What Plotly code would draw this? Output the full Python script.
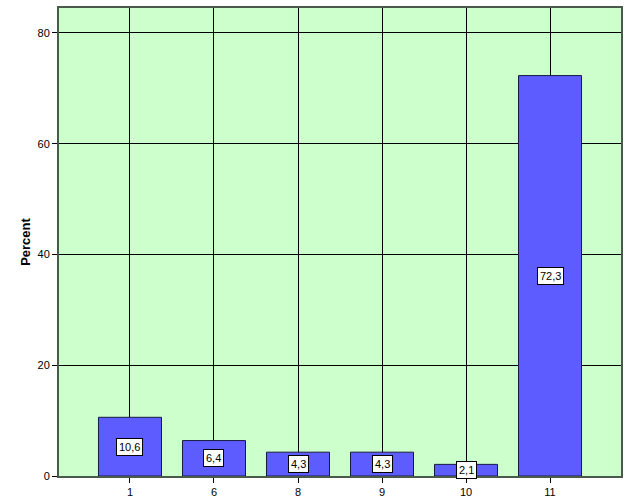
import plotly.graph_objects as go

categories = ["1", "6", "8", "9", "10", "11"]
percents = [10.6, 6.4, 4.3, 4.3, 2.1, 72.3]
labels = ["10,6", "6,4", "4,3", "4,3", "2,1", "72,3"]
y_ticks = [0, 20, 40, 60, 80]

idx = list(range(len(categories)))

fig = go.Figure()
fig.add_trace(go.Bar(
    x=idx, y=percents, width=0.75,
    marker=dict(color="#5c5cff", line=dict(color="#1a1a40", width=1)),
    hoverinfo="skip",
))

for i, v, t in zip(idx, percents, labels):
    fig.add_annotation(
        x=i, y=v / 2, text=t, showarrow=False,
        font=dict(family="Arial, Liberation Sans", size=11, color="black"),
        bgcolor="white", bordercolor="black", borderwidth=1, borderpad=2,
    )

fig.update_layout(
    width=629, height=504,
    margin=dict(l=59, r=8, t=6, b=28),
    paper_bgcolor="white", plot_bgcolor="#ccffcc",
    showlegend=False,
    font=dict(family="Arial, Liberation Sans", size=11, color="black"),
)
fig.update_xaxes(
    range=[-0.845, 5.845], tickvals=idx, ticktext=categories,
    showgrid=True, gridcolor="black", gridwidth=1, zeroline=False,
    ticks="outside", ticklen=5, tickcolor="black",
    showline=True, linecolor="#4a5a4a", linewidth=2, mirror=True,
    tickfont=dict(size=11),
)
fig.update_yaxes(
    range=[0, 84.5], tickvals=y_ticks,
    showgrid=True, gridcolor="black", gridwidth=1,
    ticks="outside", ticklen=5, tickcolor="black",
    showline=True, linecolor="#4a5a4a", linewidth=2, mirror=True,
    zeroline=False,
    title=dict(text="<b>Percent</b>", font=dict(size=13), standoff=4),
    tickfont=dict(size=11),
)

fig.write_html("out.html", config={"displayModeBar": False},
               post_script="document.body.style.margin='0';")
